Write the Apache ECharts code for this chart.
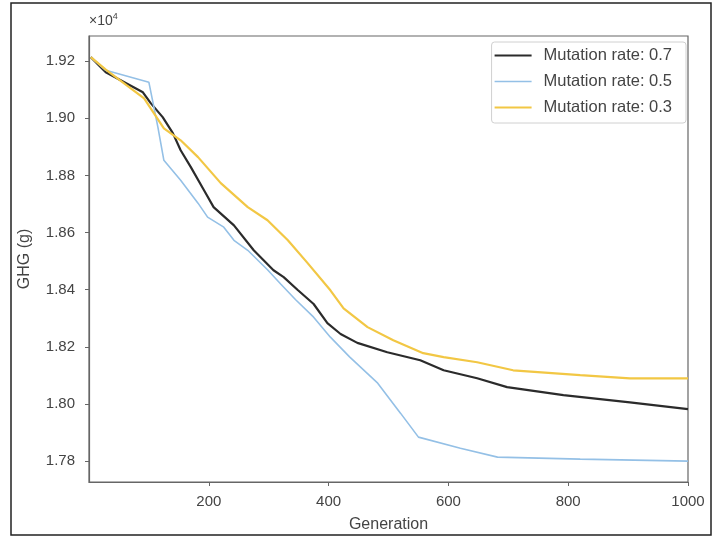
<!DOCTYPE html>
<html>
<head>
<meta charset="utf-8">
<script src="https://cdn.jsdelivr.net/npm/echarts@6/dist/echarts.min.js"></script>
<style>
  html, body { margin: 0; padding: 0; background: #fff; }
  #plot { width: 719px; height: 539px; }
</style>
</head>
<body>
<div id="plot"></div>
<script>
// GHG values in units of 10^4 g
var genBlack = [3, 28, 90, 103, 123, 140, 153, 170, 192, 208, 242, 275, 308, 325, 348, 375, 398, 420, 448, 498, 553, 592, 648, 698, 792, 903, 1000];
var ghgBlack = [1.9214, 1.9161, 1.9091, 1.9053, 1.9004, 1.8948, 1.8888, 1.8829, 1.8748, 1.8689, 1.8625, 1.8538, 1.8468, 1.8444, 1.8400, 1.8350, 1.8283, 1.8245, 1.8214, 1.8181, 1.8153, 1.8118, 1.8090, 1.8059, 1.8031, 1.8006, 1.7982];

var genBlue = [3, 28, 100, 107, 115, 125, 153, 182, 198, 225, 242, 265, 298, 320, 345, 375, 403, 435, 482, 520, 550, 620, 682, 820, 1000];
var ghgBlue = [1.9214, 1.9168, 1.9126, 1.9053, 1.8969, 1.8853, 1.8783, 1.8703, 1.8654, 1.8619, 1.8573, 1.8538, 1.8470, 1.8420, 1.8365, 1.8304, 1.8234, 1.8165, 1.8073, 1.7968, 1.7884, 1.7845, 1.7814, 1.7807, 1.7800];

var genYellow = [3, 28, 92, 125, 153, 182, 220, 265, 298, 332, 365, 403, 425, 465, 508, 558, 592, 648, 708, 820, 903, 1000];
var ghgYellow = [1.9214, 1.9170, 1.9070, 1.8965, 1.8923, 1.8864, 1.8773, 1.8689, 1.8643, 1.8573, 1.8493, 1.8398, 1.8335, 1.8269, 1.8223, 1.8178, 1.8164, 1.8146, 1.8118, 1.8101, 1.8090, 1.8090];

var seriesNames = ['Mutation rate: 0.7', 'Mutation rate: 0.5', 'Mutation rate: 0.3'];
var seriesColors = ['#2b2b2b', '#94c0e6', '#f2c744'];
var lineWidths = [2.2, 1.6, 2.2];

function pairs(xs, ys) {
  return xs.map(function (x, i) { return [x, ys[i]]; });
}

// legend handle: a flat bar inside a 37x14 box
function lineIcon(w) {
  var a = 7 - w / 2, b = 7 + w / 2;
  return 'path://M0,0L0.01,0Z M0,14L0.01,14Z M0,' + a + 'L37,' + a + 'L37,' + b + 'L0,' + b + 'Z';
}

var myChart = echarts.init(document.getElementById('plot'));

var option = {
  animation: false,
  backgroundColor: '#fff',
  textStyle: { fontFamily: 'Liberation Sans, Arial, sans-serif', color: '#444' },
  title: {
    text: '×10{s|4}',
    left: 89, top: 12, padding: 0,
    textStyle: {
      fontSize: 14, fontWeight: 'normal', color: '#444',
      rich: { s: { fontSize: 9, color: '#444', padding: [0, 0, 9, 0] } }
    }
  },
  graphic: [{
    type: 'rect',
    shape: { x: 11, y: 3, width: 700, height: 532 },
    style: { fill: 'none', stroke: '#222', lineWidth: 1.5 },
    silent: true
  }],
  grid: {
    left: 89, right: 31, top: 36, bottom: 57,
    show: true, borderColor: '#666', borderWidth: 1.2
  },
  legend: {
    orient: 'vertical',
    right: 33, top: 42,
    padding: [5, 14, 7, 3],
    itemWidth: 37, itemHeight: 14, itemGap: 9,
    borderColor: '#d0d0d0', borderWidth: 1, borderRadius: 3,
    textStyle: { fontSize: 16.5, color: '#444', padding: [0, 0, 0, 7] },
    data: seriesNames.map(function (n, i) {
      return { name: n, icon: lineIcon(lineWidths[i]) };
    })
  },
  xAxis: {
    type: 'value',
    min: 0, max: 1000, interval: 200,
    name: 'Generation',
    nameLocation: 'middle', nameGap: 35,
    nameTextStyle: { fontSize: 16, color: '#444' },
    axisLine: { show: true, lineStyle: { color: '#666', width: 1.2 } },
    axisTick: { show: true, inside: false, length: 4, lineStyle: { color: '#666' } },
    axisLabel: {
      fontSize: 15, color: '#444', margin: 12, showMinLabel: false,
      formatter: function (v) { return v === 0 ? '' : String(v); }
    },
    splitLine: { show: false }
  },
  yAxis: {
    type: 'value',
    min: 1.7727, max: 1.9288, splitNumber: 8,
    name: 'GHG (g)',
    nameLocation: 'middle', nameGap: 56,
    nameTextStyle: { fontSize: 16, color: '#444' },
    axisLine: { show: true, lineStyle: { color: '#666', width: 1.2 } },
    axisTick: { show: true, inside: false, length: 4, lineStyle: { color: '#666' } },
    axisLabel: {
      fontSize: 15, color: '#444', margin: 14,
      showMinLabel: false, showMaxLabel: false,
      formatter: function (v) { return v.toFixed(2); }
    },
    splitLine: { show: false }
  },
  series: [
    {
      name: seriesNames[0], type: 'line', symbol: 'none',
      color: seriesColors[0], lineStyle: { width: lineWidths[0], color: seriesColors[0] },
      data: pairs(genBlack, ghgBlack)
    },
    {
      name: seriesNames[1], type: 'line', symbol: 'none',
      color: seriesColors[1], lineStyle: { width: lineWidths[1], color: seriesColors[1] },
      data: pairs(genBlue, ghgBlue)
    },
    {
      name: seriesNames[2], type: 'line', symbol: 'none',
      color: seriesColors[2], lineStyle: { width: lineWidths[2], color: seriesColors[2] },
      data: pairs(genYellow, ghgYellow)
    }
  ]
};

myChart.setOption(option);
</script>
</body>
</html>
